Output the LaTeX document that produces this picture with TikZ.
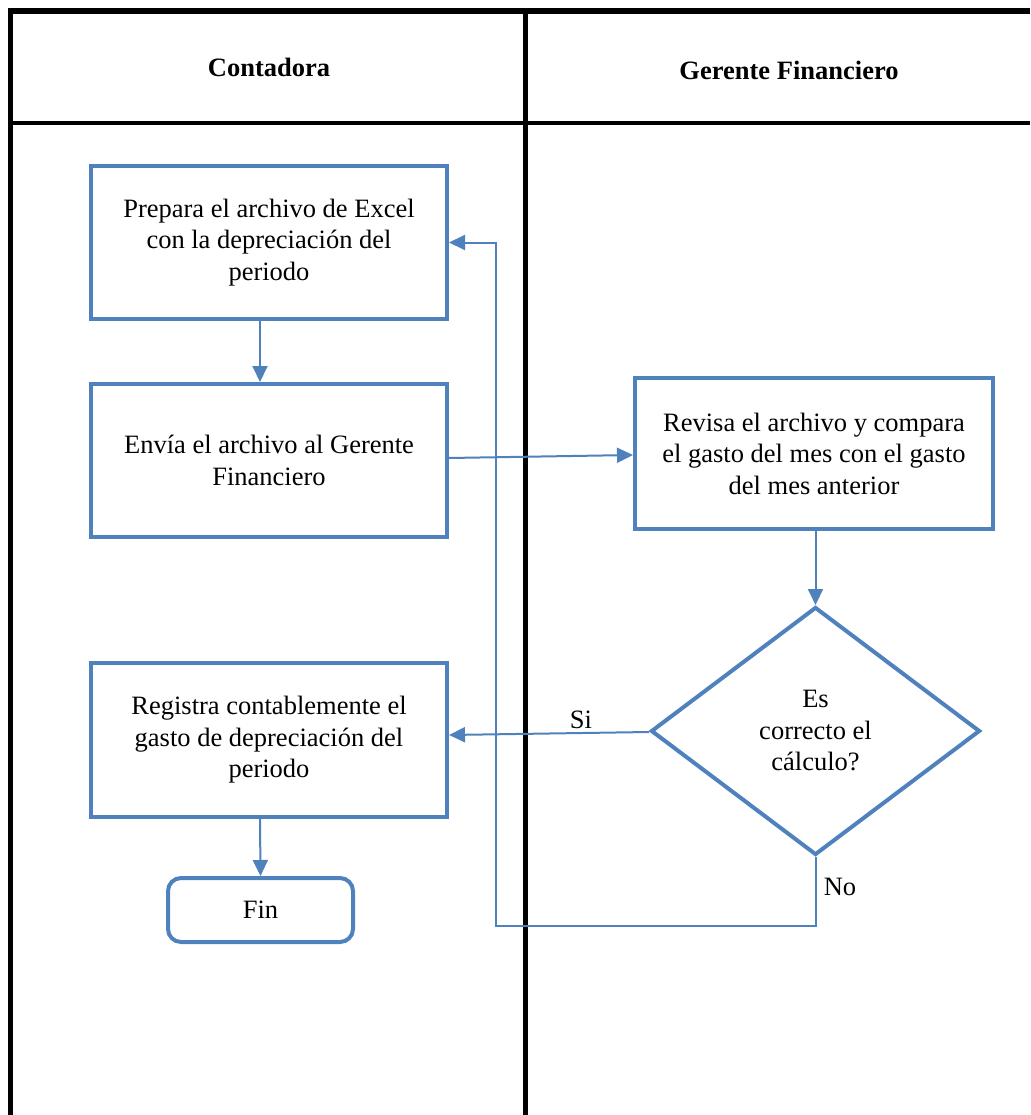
\documentclass[tikz,border=0pt]{standalone}
\usepackage{fontspec}
\setmainfont{Liberation Serif}
\usetikzlibrary{arrows.meta,shapes.geometric}
\definecolor{flowblue}{RGB}{79,129,189}
\begin{document}
\begin{tikzpicture}[x=1pt,y=-1pt,
  every node/.style={font=\fontsize{26.5}{31.5}\selectfont},
  procbox/.style={draw=flowblue,line width=4pt,rectangle,align=center,inner sep=0pt},
  decbox/.style={draw=flowblue,line width=4pt,diamond,align=center,inner sep=0pt},
  endbox/.style={draw=flowblue,line width=4pt,rectangle,rounded corners=13pt,align=center,inner sep=0pt},
  conn/.style={draw=flowblue,line width=2pt,-{Triangle[length=16pt,width=15pt]}},
  lane/.style={draw=black,line width=5pt},
  lbl/.style={inner sep=0pt}]
\useasboundingbox (0,0) rectangle (1030,1115);
% swimlane frame
\draw[lane,line width=6pt] (7.5,11) -- (1030,11);
\draw[lane,line width=4pt] (10,123) -- (1030,123);
\draw[lane] (10,8) -- (10,1115);
\draw[lane] (525,8) -- (525,1115);
\node[lbl,font=\bfseries\fontsize{26.5}{31.5}\selectfont] (h1) at (269,67) {Contadora};
\node[lbl,font=\bfseries\fontsize{26.5}{31.5}\selectfont] (h2) at (789,70) {Gerente Financiero};
% nodes
\node[procbox,minimum width=356pt,minimum height=153pt] (b1) at (269,242.5)
  {Prepara el archivo de Excel\\con la depreciación del\\periodo};
\node[procbox,minimum width=356pt,minimum height=153pt] (b2) at (269,460.5)
  {Envía el archivo al Gerente\\Financiero};
\node[procbox,minimum width=358pt,minimum height=151pt] (b3) at (814,453.5)
  {Revisa el archivo y compara\\el gasto del mes con el gasto\\del mes anterior};
\node[decbox,minimum width=329pt,minimum height=248pt] (d1) at (815.5,731)
  {Es\\correcto el\\cálculo?};
\node[procbox,minimum width=356pt,minimum height=154pt] (b4) at (269,740)
  {Registra contablemente el\\gasto de depreciación del\\periodo};
\node[endbox,minimum width=185pt,minimum height=64pt] (fin) at (260.5,910) {Fin};
\coordinate (c1) at (496,926);
% connectors
\draw[conn] (b1.south -| 260,0) -- (b2.north -| 260,0);
\draw[conn] ([yshift=2.5pt]b2.east) -- ([yshift=-1.5pt]b3.west);
\draw[conn] (b3.south -| d1.north) -- (d1.north);
\draw[conn] ([yshift=-1pt]d1.west) -- ([yshift=5pt]b4.east) node[lbl,pos=0.34,above=3pt] (si) {Si};
\draw[conn] (d1.south) |- (c1) |- (b1.east);
\draw[conn] (b4.south -| 260,0) -- (fin.north);
\node[lbl] (no) at (840,887) {No};
\end{tikzpicture}
\end{document}
